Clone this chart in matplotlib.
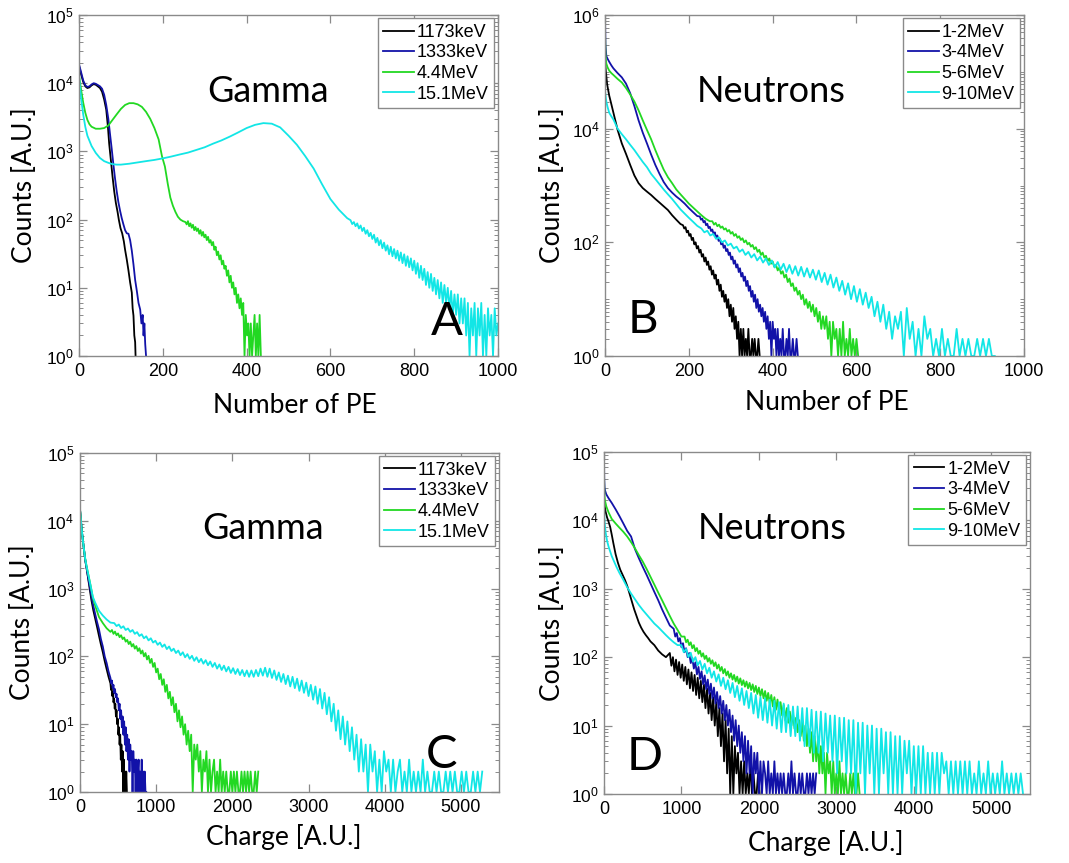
import numpy as np
import matplotlib
matplotlib.use("Agg")
import matplotlib.pyplot as plt
from matplotlib.ticker import FixedLocator, LogLocator, NullFormatter, LogFormatterSciNotation

plt.rcParams['font.family'] = ['Liberation Sans', 'DejaVu Sans']

# ---------------- Panel A : Gamma, Number of PE ----------------
A_black_x = [0, 5, 10, 15, 20, 25, 30, 35, 40, 45, 50, 55, 60, 65, 69, 72, 76, 80, 84, 88,
             92, 95, 99, 103, 107, 110, 114, 118, 122, 126, 128, 130, 132, 134, 135]
A_black_y = [18000, 13500, 10500, 9000, 8500, 8700, 9300, 9700, 9500, 9000, 8500, 7500, 5800, 4100,
             2300, 1300, 750, 430, 260, 175, 130, 100, 75, 63, 48, 36, 26, 18, 12, 8.5, 5, 3.9, 2, 1.6, 1]
A_blue_x = [0, 5, 10, 15, 20, 25, 30, 35, 40, 45, 50, 55, 60, 65, 70, 74, 78, 82, 86, 90, 94, 98,
            102, 106, 110, 114, 118, 122, 126, 130, 134, 138, 142, 146, 149, 152, 154, 156, 158, 160]
A_blue_y = [19000, 14500, 11000, 9300, 8800, 9000, 9600, 10000, 9800, 9400, 9000, 8300, 6800, 4800,
            3000, 1800, 1100, 650, 400, 260, 180, 135, 105, 85, 70, 63, 62, 50, 35, 22, 13, 9, 6, 4.8,
            3, 4, 2, 3, 1.5, 1]
A_green_x = [0, 5, 10, 15, 20, 25, 30, 40, 50, 60, 70, 80, 90, 100, 110, 120, 130, 140, 150, 160,
             170, 180, 190, 198, 205, 212, 218, 224, 230, 236, 242, 248]
A_green_y = [13000, 8000, 5200, 3700, 2900, 2500, 2300, 2150, 2150, 2200, 2400, 2900, 3500, 4200,
             4800, 5100, 5100, 4900, 4500, 3800, 3000, 2200, 1500, 850, 600, 330, 210, 160, 130, 110, 100, 95]
A_green_tail = [92, 85, 95, 80, 88, 76, 84, 70, 78, 68, 74, 62, 70, 58, 66, 55, 60, 50, 56, 46,
                50, 42, 47, 36, 40, 30, 34, 26, 30, 22, 25, 19, 21, 15, 18, 12, 15, 10, 12, 8,
                10, 6, 8, 5, 7, 4, 6, 1, 4, 2, 3, 1, 3, 1, 2, 4, 1, 3, 1, 4, 1]
A_cyan_x = [0, 5, 10, 15, 20, 30, 40, 50, 60, 70, 80, 90, 100, 110, 120, 140, 160, 180, 200, 220,
            240, 260, 280, 300, 320, 340, 360, 380, 400, 420, 440, 460, 480, 500, 520, 540, 560, 580,
            600, 620, 640]
A_cyan_y = [13000, 6000, 3500, 2300, 1700, 1200, 950, 800, 720, 680, 650, 640, 640, 650, 660, 690,
            720, 750, 790, 840, 900, 960, 1050, 1150, 1300, 1450, 1650, 1900, 2200, 2450, 2600, 2550,
            2250, 1700, 1250, 850, 560, 330, 200, 140, 105]
A_cyan_tail = [98, 86, 92, 80, 88, 74, 82, 68, 76, 62, 70, 57, 64, 52, 60, 46, 54, 42, 50, 38,
               46, 35, 42, 31, 40, 29, 37, 27, 35, 25, 33, 23, 31, 21, 29, 20, 27, 18, 25, 16,
               23, 14, 21, 13, 19, 11, 17, 10, 16, 9, 14, 8, 13, 7, 12, 6, 11, 6, 10, 5,
               9, 4, 8, 4, 8, 3, 7, 3, 7, 2, 6, 1, 5, 2, 6, 1, 5, 2, 6, 1,
               4, 1, 5, 2, 4, 1, 5, 2, 3]

# ---------------- Panel B : Neutrons, Number of PE ----------------
B_black_x = [0, 2, 5, 10, 15, 20, 30, 40, 50, 60, 70, 80, 90, 100, 110, 120, 130, 140, 150, 160, 170, 180]
B_black_y = [150000, 100000, 60000, 38000, 27000, 19000, 9500, 5500, 3600, 2300, 1500, 1100, 900,
             780, 680, 580, 500, 430, 370, 300, 250, 210]
B_black_tail = [200, 175, 185, 150, 160, 130, 140, 110, 120, 92, 100, 78, 86, 66, 74, 56, 62, 46, 54, 40,
                46, 33, 38, 27, 32, 23, 27, 18, 22, 14, 18, 11, 14, 9, 12, 7, 10, 5, 8, 4,
                7, 3, 5, 2, 4, 1, 3, 1, 3, 1, 2, 1, 3, 1, 1, 2, 1, 2, 1, 1, 2, 1]
B_blue_x = [0, 1, 3, 6, 10, 15, 20, 30, 40, 50, 60, 70, 80, 90, 100, 110, 120, 130, 140, 150, 160,
            170, 180, 190, 200, 210, 220]
B_blue_y = [830000, 300000, 190000, 170000, 150000, 130000, 115000, 95000, 80000, 62000, 42000, 25000,
            14000, 8500, 5500, 3500, 2300, 1600, 1150, 900, 750, 640, 560, 480, 400, 340, 290]
B_blue_tail = [285, 250, 262, 225, 238, 200, 212, 178, 188, 158, 168, 140, 150, 122, 132, 106, 116, 92, 100, 80,
               88, 70, 76, 60, 66, 50, 56, 42, 48, 36, 41, 30, 35, 25, 29, 21, 25, 17, 21, 14,
               17, 11, 14, 9, 12, 7, 10, 6, 8, 5, 7, 4, 6, 3, 5, 2, 4, 1, 4, 2,
               3, 1, 3, 1, 2, 1, 3, 1, 1, 2, 1, 3, 1, 1, 2, 1, 1, 2, 1]
B_green_x = [0, 1, 3, 6, 10, 15, 20, 30, 40, 50, 60, 70, 80, 90, 100, 110, 120, 130, 140, 150, 160,
             170, 180, 190, 200, 210, 220, 230, 240, 250]
B_green_y = [480000, 200000, 140000, 120000, 105000, 95000, 88000, 75000, 65000, 52000, 40000, 30000,
             21000, 14000, 9500, 6500, 4200, 2800, 1900, 1400, 1100, 850, 700, 580, 480, 410, 350, 300, 260, 235]
B_green_tail = [235, 205, 220, 192, 205, 180, 190, 168, 176, 155, 165, 142, 152, 130, 140, 120, 128, 110, 118, 100,
                108, 92, 98, 84, 90, 76, 82, 68, 74, 60, 66, 54, 58, 47, 52, 42, 46, 37, 40, 32,
                36, 28, 31, 24, 27, 20, 23, 17, 19, 14, 16, 12, 14, 10, 12, 8, 10, 7, 9, 6,
                8, 5, 7, 4, 6, 3, 5, 3, 5, 2, 4, 1, 4, 2, 3, 1, 3, 1, 4, 1,
                2, 1, 3, 1, 2, 1, 2, 1]
B_cyan_x = [0, 3, 6, 10, 15, 20, 30, 40, 50, 60, 70, 80, 90, 100, 110, 120, 130, 140, 150, 160, 170,
            180, 190, 200, 210, 220]
B_cyan_y = [45000, 30000, 24000, 19000, 16500, 14500, 10000, 8000, 6500, 5200, 4200, 3300, 2600, 2100,
            1600, 1300, 1050, 850, 700, 580, 470, 380, 320, 270, 230, 195]
B_cyan_tail = [175, 150, 160, 132, 140, 115, 122, 100, 108, 88, 95, 78, 84, 68, 75, 60, 68, 54, 62, 48,
               56, 44, 52, 40, 48, 36, 45, 33, 42, 30, 40, 28, 38, 26, 37, 25, 35, 24, 33, 22,
               32, 20, 29, 18, 27, 16, 24, 14, 21, 12, 19, 10, 17, 9, 15, 8, 13, 7, 11, 5,
               9, 4, 8, 3, 6, 2, 5, 3, 6, 1, 7, 2, 4, 1, 3, 1, 5, 2, 3, 1,
               2, 1, 3, 1, 2, 1, 1, 3, 1, 2, 1, 2, 1, 1, 2, 1, 2, 1, 2, 1, 1]

# ---------------- Panel C : Gamma, Charge ----------------
C_black_x = [0, 10, 20, 35, 50, 70, 90, 110, 130, 150, 175, 200, 225, 250, 275, 300, 325, 350, 375]
C_black_y = [15000, 11000, 8000, 5500, 4000, 2600, 1900, 1350, 950, 680, 480, 360, 270, 200, 150, 115,
             85, 65, 50]
C_black_tail = [40, 32, 36, 26, 30, 21, 24, 17, 20, 13, 16, 10, 12, 7, 9, 5, 7, 3, 5, 2,
                4, 1, 3, 1, 2, 1, 2, 1]
C_blue_x = [0, 10, 20, 35, 50, 70, 90, 110, 130, 150, 175, 200, 225, 250, 275, 300, 325, 350, 375]
C_blue_y = [15000, 11000, 8000, 5500, 4000, 2600, 1900, 1400, 1050, 780, 560, 420, 320, 250, 180, 140,
            100, 80, 60]
C_blue_tail = [48, 40, 44, 34, 38, 29, 33, 25, 28, 21, 24, 16, 20, 12, 16, 9, 13, 7, 11, 5,
               9, 4, 7, 3, 6, 2, 5, 3, 4, 1, 4, 2, 3, 1, 3, 1, 2, 3, 1, 2,
               1, 3, 1, 2, 1, 2, 1, 1]
C_green_x = [0, 10, 20, 35, 50, 70, 90, 110, 140, 170, 200, 250, 300, 350, 400]
C_green_y = [15000, 11000, 8000, 5500, 4000, 2700, 2050, 1600, 1100, 720, 560, 380, 310, 260, 230]
C_green_tail = [245, 215, 232, 205, 218, 192, 205, 180, 190, 165, 175, 152, 165, 140, 152, 130, 142, 120, 132, 110,
                122, 100, 112, 90, 102, 80, 92, 70, 80, 58, 66, 46, 55, 38, 46, 30, 38, 24, 30, 19,
                25, 15, 20, 11, 16, 9, 13, 7, 10, 5, 8, 4, 7, 1, 5, 3, 5, 2, 4, 1,
                3, 2, 4, 1, 3, 1, 2, 3, 1, 2, 1, 3, 1, 2, 1, 2, 1, 1, 2, 1,
                2, 1, 2, 1, 1, 2, 1, 2, 1, 2, 1, 2, 1, 1, 2, 1, 2]
C_cyan_x = [0, 10, 20, 35, 50, 70, 90, 110, 140, 170, 200, 250, 300, 350, 400]
C_cyan_y = [15000, 11000, 8000, 5500, 4000, 2700, 2050, 1600, 1100, 750, 620, 470, 400, 350, 315]
C_cyan_tail = [310, 280, 295, 262, 278, 245, 258, 230, 245, 215, 228, 200, 212, 185, 198, 172, 185, 160, 170, 148,
               160, 138, 150, 128, 140, 120, 130, 112, 122, 104, 115, 97, 108, 92, 102, 86, 97, 82, 92, 78,
               88, 74, 84, 70, 80, 66, 76, 63, 73, 60, 70, 57, 67, 55, 65, 53, 63, 51, 62, 50,
               62, 50, 63, 51, 66, 52, 68, 50, 66, 48, 62, 45, 58, 42, 55, 39, 52, 36, 50, 34,
               47, 31, 44, 29, 41, 26, 38, 23, 36, 20, 33, 17, 29, 14, 25, 11, 20, 8, 16, 6,
               13, 5, 11, 4, 9, 3, 7, 2, 6, 2, 5, 1, 5, 2, 4, 1, 3, 1, 4, 2,
               3, 1, 3, 1, 2, 3, 1, 2, 1, 3, 1, 2, 1, 2, 1, 3, 1, 2, 1, 1,
               2, 1, 2, 1, 1, 2, 1, 2, 1, 2, 1, 1, 2, 1, 2, 1, 1, 2, 1, 2, 1, 2]

# ---------------- Panel D : Neutrons, Charge ----------------
D_black_x = [0, 10, 20, 40, 60, 80, 100, 120, 150, 180, 210, 240, 270, 300, 330, 360, 390, 420, 450, 480,
             510, 540, 570, 600, 650, 700, 750, 800]
D_black_y = [20000, 16000, 13500, 11000, 9500, 8000, 6200, 4700, 3200, 2400, 1900, 1600, 1350, 1100, 850,
             650, 500, 400, 320, 270, 235, 210, 190, 170, 150, 125, 110, 100]
D_black_tail = [115, 75, 100, 62, 92, 55, 85, 50, 78, 45, 72, 40, 66, 35, 60, 32, 55, 28, 50, 25,
                45, 22, 40, 18, 35, 15, 30, 12, 26, 10, 22, 7, 18, 5, 15, 3, 12, 2, 9, 1,
                7, 1, 5, 2, 4, 1, 3, 1, 3, 1, 2, 1, 3, 1, 2, 1, 1, 2, 1]
D_blue_x = [0, 3, 8, 15, 30, 60, 100, 150, 200, 250, 300, 350, 400, 450, 500, 550, 600, 650, 700, 750, 800, 850]
D_blue_y = [100000, 40000, 30000, 27000, 24000, 21000, 18000, 14500, 11500, 9000, 7000, 5800, 3800, 2800,
            2100, 1600, 1200, 900, 680, 500, 380, 290]
D_blue_tail = [260, 200, 225, 170, 190, 140, 160, 118, 135, 100, 115, 82, 98, 68, 84, 56, 72, 48, 62, 40,
               54, 34, 47, 29, 41, 25, 36, 21, 31, 18, 27, 15, 23, 12, 20, 10, 17, 8, 14, 6,
               12, 5, 10, 4, 8, 3, 7, 2, 6, 2, 5, 1, 4, 2, 4, 1, 3, 1, 3, 2,
               1, 3, 1, 2, 1, 3, 1, 2, 1, 2, 1, 2, 1, 1, 2, 1, 3, 1, 2, 1,
               1, 2, 1, 2, 1, 1, 2, 1, 2, 1, 2, 1, 2]
D_green_x = [0, 3, 8, 15, 30, 60, 100, 150, 200, 250, 300, 350, 400, 450, 500, 550, 600, 650, 700, 750,
             800, 850, 900, 950, 1000]
D_green_y = [60000, 30000, 22000, 19000, 16000, 13000, 10500, 9000, 7800, 6800, 5800, 4800, 3900, 3100,
             2500, 1950, 1500, 1150, 880, 680, 520, 400, 310, 250, 200]
D_green_tail = [200, 165, 180, 150, 165, 135, 150, 122, 136, 112, 124, 102, 114, 94, 105, 86, 97, 80, 90, 74,
                84, 68, 78, 63, 72, 58, 67, 54, 62, 50, 58, 47, 55, 44, 52, 41, 49, 39, 46, 37,
                44, 35, 42, 33, 40, 31, 38, 29, 36, 27, 34, 25, 32, 23, 30, 21, 28, 19, 26, 17,
                24, 16, 22, 14, 20, 12, 18, 11, 16, 10, 15, 9, 13, 8, 12, 7, 11, 6, 10, 5,
                9, 4, 8, 3, 7, 3, 6, 2, 5, 2, 4, 1, 4, 2, 3, 1, 3, 1, 2, 1,
                3, 1, 2, 1, 2, 1, 1, 2, 1, 2, 1, 1, 2, 1]
D_cyan_x = [0, 5, 10, 20, 40, 60, 80, 100, 130, 160, 200, 250, 300, 350, 400, 450, 500, 550, 600, 650,
            700, 750, 800, 850, 900, 950]
D_cyan_y = [14000, 11000, 9000, 6800, 5000, 4100, 3500, 3000, 2500, 2100, 1700, 1350, 1050, 850, 700,
            580, 490, 420, 360, 310, 275, 240, 210, 185, 165, 150]
D_cyan_tail = [150, 118, 132, 100, 116, 86, 100, 76, 88, 66, 80, 58, 70, 50, 62, 44, 56, 38, 50, 34,
               46, 30, 42, 26, 38, 23, 35, 20, 32, 18, 30, 15, 28, 13, 26, 12, 25, 11, 24, 10,
               23, 9, 22, 8, 21, 8, 20, 7, 19, 7, 19, 6, 18, 5, 18, 5, 17, 4, 16, 4,
               16, 3, 15, 4, 14, 3, 14, 2, 13, 3, 13, 2, 12, 2, 12, 1, 11, 2, 11, 1,
               10, 2, 10, 1, 9, 1, 9, 2, 8, 1, 8, 1, 7, 1, 7, 1, 6, 2, 6, 1,
               5, 1, 5, 1, 5, 1, 4, 1, 4, 1, 4, 1, 4, 2, 3, 1, 3, 1, 3, 1,
               3, 1, 3, 1, 3, 1, 2, 1, 3, 1, 2, 1, 3, 1, 2, 1, 2, 1, 3, 1,
               2, 1, 2, 1, 2, 1, 2, 1]

gamma_labels = ['1173keV', '1333keV', '4.4MeV', '15.1MeV']
neutron_labels = ['1-2MeV', '3-4MeV', '5-6MeV', '9-10MeV']
colors = ['#000000', '#1212a8', '#22d822', '#12e6e6']


def series(head_x, head_y, tail_vals=None, start=None, step=None):
    x = list(head_x)
    y = list(head_y)
    if tail_vals is not None:
        x += list(start + step * np.arange(len(tail_vals)))
        y += list(tail_vals)
    return np.array(x, float), np.array(y, float)


panels = [
    dict(pos=[0.0739, 0.5875, 0.3920, 0.3951], xlim=(0, 1000), ylim=(1, 1e5),
         xticks=[0, 200, 400, 600, 800, 1000], yticks=[1, 10, 100, 1e3, 1e4, 1e5],
         xlabel='Number of PE', title='Gamma', title_xy=(0.451, 0.777), letter='A', letter_xy=(0.879, 0.1),
         labels=gamma_labels, ylab_x=-0.129, xlab_y=-0.144, xlab_x=0.515,
         curves=[series(A_black_x, A_black_y), series(A_blue_x, A_blue_y),
                 series(A_green_x, A_green_y, A_green_tail, 254, 3),
                 series(A_cyan_x, A_cyan_y, A_cyan_tail, 648, 4)]),
    dict(pos=[0.5660, 0.5875, 0.3920, 0.3951], xlim=(0, 1000), ylim=(1, 1e6),
         xticks=[0, 200, 400, 600, 800, 1000], yticks=[1, 1e2, 1e4, 1e6],
         xlabel='Number of PE', title='Neutrons', title_xy=(0.396, 0.777), letter='B', letter_xy=(0.091, 0.107),
         labels=neutron_labels, ylab_x=-0.126, xlab_y=-0.135, xlab_x=0.53,
         curves=[series(B_black_x, B_black_y, B_black_tail, 186, 3),
                 series(B_blue_x, B_blue_y, B_blue_tail, 226, 3),
                 series(B_green_x, B_green_y, B_green_tail, 256, 4),
                 series(B_cyan_x, B_cyan_y, B_cyan_tail, 230, 7)]),
    dict(pos=[0.0748, 0.0823, 0.3920, 0.3928], xlim=(0, 5500), ylim=(1, 1e5),
         xticks=[0, 1000, 2000, 3000, 4000, 5000], yticks=[1, 10, 100, 1e3, 1e4, 1e5],
         xlabel='Charge [A.U.]', title='Gamma', title_xy=(0.436, 0.776), letter='C', letter_xy=(0.862, 0.108),
         labels=gamma_labels, ylab_x=-0.136, xlab_y=-0.133, xlab_x=0.487,
         curves=[series(C_black_x, C_black_y, C_black_tail, 400, 8),
                 series(C_blue_x, C_blue_y, C_blue_tail, 400, 10),
                 series(C_green_x, C_green_y, C_green_tail, 420, 20),
                 series(C_cyan_x, C_cyan_y, C_cyan_tail, 450, 30)]),
    dict(pos=[0.5650, 0.0800, 0.3985, 0.3963], xlim=(0, 5500), ylim=(1, 1e5),
         xticks=[0, 1000, 2000, 3000, 4000, 5000], yticks=[1, 10, 100, 1e3, 1e4, 1e5],
         xlabel='Charge [A.U.]', title='Neutrons', title_xy=(0.395, 0.775), letter='D', letter_xy=(0.096, 0.107),
         labels=neutron_labels, ylab_x=-0.12, xlab_y=-0.143, xlab_x=0.52,
         curves=[series(D_black_x, D_black_y, D_black_tail, 850, 20),
                 series(D_blue_x, D_blue_y, D_blue_tail, 900, 20),
                 series(D_green_x, D_green_y, D_green_tail, 1040, 20),
                 series(D_cyan_x, D_cyan_y, D_cyan_tail, 1000, 30)]),
]

fig = plt.figure(figsize=(10.69, 8.63), dpi=100)
edge = '#8a8a8a'
label_font = ['Lato', 'DejaVu Sans']

for p in panels:
    ax = fig.add_axes(p['pos'])
    for (x, y), c, lab in zip(p['curves'], colors, p['labels']):
        ax.plot(x, y, color=c, lw=1.3, label=lab)
    ax.set_yscale('log')
    ax.set_xlim(*p['xlim'])
    ax.set_ylim(*p['ylim'])
    ax.xaxis.set_major_locator(FixedLocator(p['xticks']))
    ax.yaxis.set_major_locator(FixedLocator(p['yticks']))
    ax.yaxis.set_major_formatter(LogFormatterSciNotation())
    ax.yaxis.set_minor_locator(LogLocator(base=10, subs=np.arange(1, 10), numticks=100))
    ax.yaxis.set_minor_formatter(NullFormatter())
    for s in ax.spines.values():
        s.set_color(edge)
        s.set_linewidth(1.0)
    ax.tick_params(which='both', direction='in', top=True, right=True, color=edge, labelcolor='black')
    ax.tick_params(which='major', length=6, width=0.9)
    ax.tick_params(which='minor', length=3, width=0.7)
    ax.tick_params(axis='x', labelsize=13, pad=5)
    ax.tick_params(axis='y', labelsize=12.5, pad=4)

    ax.set_xlabel(p['xlabel'], family=label_font, fontsize=19)
    ax.xaxis.set_label_coords(p['xlab_x'], p['xlab_y'])
    ax.xaxis.label.set_va('center')
    ax.set_ylabel('Counts [A.U.]', family=label_font, fontsize=19)
    ax.yaxis.set_label_coords(p['ylab_x'], 0.5)
    ax.yaxis.label.set_va('center')

    ax.text(*p['title_xy'], p['title'], transform=ax.transAxes, ha='center', va='center',
            family=label_font, fontsize=26)
    ax.text(*p['letter_xy'], p['letter'], transform=ax.transAxes, ha='center', va='center',
            family=label_font, fontsize=34)

    leg = ax.legend(loc='upper right', bbox_to_anchor=(0.99, 0.99), borderaxespad=0, fontsize=13,
                    fancybox=False, framealpha=1, edgecolor=edge, borderpad=0.3, labelspacing=0.2,
                    handlelength=1.7, handletextpad=0.15)
    leg.get_frame().set_linewidth(1.0)

fig.savefig('out.png', dpi=100)
